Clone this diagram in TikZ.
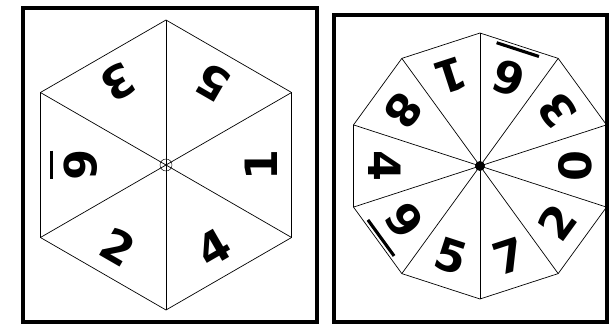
\documentclass[tikz,border=0pt]{standalone}
\usepackage{fontspec}
\setsansfont{DejaVu Sans}
\usepackage{tikz}

\newcommand\barred[2]{\vtop{\offinterlineskip\hbox to #1{\hss#2\hss}\kern0.25em\hbox to #1{\rule{#1}{0.07em}}}}

\begin{document}
\begin{tikzpicture}[
            x=0.03cm, y=0.03cm,
            frame/.style={draw, line width=2.6pt},
            rim/.style={draw, line width=0.6pt, line join=round},
            spoke/.style={draw, line width=0.6pt},
            digit/.style={font=\sffamily\bfseries\fontsize{38}{38}\selectfont, inner sep=0pt}
        ]
            \useasboundingbox (0,0) rectangle (613,335);

            \draw[frame] (23,13) rectangle (317,327);
            \coordinate (hc) at (166,170);
            \foreach \i in {0,...,5}
                \coordinate (h\i) at ([shift={(90-60*\i:145)}]hc);
            \draw[rim] (h0) -- (h1) -- (h2) -- (h3) -- (h4) -- (h5) -- cycle;
            \foreach \i in {0,...,5}
                \draw[spoke] (hc) -- (h\i);
            \node[draw, circle, line width=0.4pt, minimum size=0.36cm, inner sep=0pt] (hhub) at (hc) {};

            \node[digit, rotate=150] (hfive) at ([shift={(60:95)}]hc) {5};
            \node[digit, rotate=90] (hone) at ([shift={(0:95)}]hc) {1};
            \node[digit, rotate=30] (hfour) at ([shift={(-60:95)}]hc) {4};
            \node[digit, rotate=-30] (htwo) at ([shift={(-120:95)}]hc) {2};
            \node[digit, rotate=-90] (hsix) at ([shift={(180:92)}]hc) {\barred{0.65em}{6}};
            \node[digit, rotate=-150] (hthree) at ([shift={(120:95)}]hc) {3};

            \draw[frame] (334,13) rectangle (607,320);
            \coordinate (dc) at (480,169);
            \foreach \i in {0,...,9}
                \coordinate (d\i) at ([shift={(90-36*\i:133)}]dc);
            \draw[rim] (d0) -- (d1) -- (d2) -- (d3) -- (d4) -- (d5) -- (d6) -- (d7) -- (d8) -- (d9) -- cycle;
            \foreach \i in {0,...,9}
                \draw[spoke] (dc) -- (d\i);
            \node[fill, circle, minimum size=0.3cm, inner sep=0pt] (dhub) at (dc) {};

            \node[digit, rotate=162] (dsix) at ([shift={(72:100)}]dc) {\barred{1.0em}{6}};
            \node[digit, rotate=126] (dthree) at ([shift={(36:95)}]dc) {3};
            \node[digit, rotate=90] (dzero) at ([shift={(0:95)}]dc) {0};
            \node[digit, rotate=54] (dtwo) at ([shift={(-36:95)}]dc) {2};
            \node[digit, rotate=18] (dseven) at ([shift={(-72:95)}]dc) {7};
            \node[digit, rotate=-18] (dfive) at ([shift={(-108:95)}]dc) {5};
            \node[digit, rotate=-54] (dnine) at ([shift={(-144:100)}]dc) {\barred{1.0em}{9}};
            \node[digit, rotate=270] (dfour) at ([shift={(180:95)}]dc) {4};
            \node[digit, rotate=234] (deight) at ([shift={(144:95)}]dc) {8};
            \node[digit, rotate=198] (done) at ([shift={(108:95)}]dc) {1};

        \end{tikzpicture}
\end{document}
